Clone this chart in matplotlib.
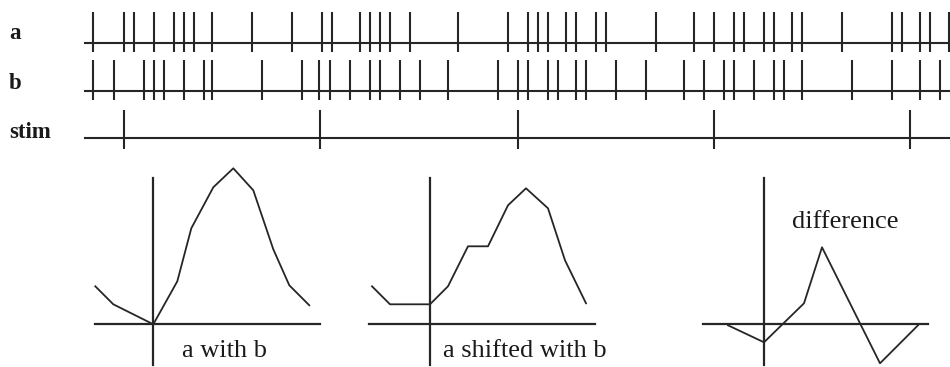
import matplotlib
matplotlib.use("Agg")
import matplotlib.pyplot as plt

# spike times (ms from the start of the trace)
spikes_a = [8, 39, 49, 69, 89, 99, 109, 127, 167, 207, 237, 247, 275, 285, 295, 305,
            325, 373, 423, 443, 453, 463, 481, 491, 511, 521, 571, 609, 629, 649, 659,
            679, 689, 707, 717, 757, 807, 817, 835, 845, 864]
spikes_b = [8, 29, 59, 69, 79, 99, 119, 127, 177, 217, 234, 245, 265, 285, 295, 315,
            335, 363, 413, 433, 443, 463, 473, 491, 501, 531, 561, 599, 619, 639, 649,
            669, 689, 699, 717, 767, 807, 835, 855]
stim_times = [39, 235, 433, 629, 825]
row_labels = ["a", "b", "stim"]
trace_end = 865

# cross-correlograms (lag in bins, count)
lag_ab = [-2.9, -2.0, 0.0, 1.2, 1.9, 3.0, 4.0, 5.0, 6.0, 6.8, 7.8]
cnt_ab = [3.8, 2.0, 0.0, 4.3, 9.6, 13.7, 15.6, 13.4, 7.5, 3.9, 1.9]
lag_shift = [-2.9, -2.0, 0.0, 0.9, 1.9, 2.9, 3.9, 4.8, 5.9, 6.75, 7.8]
cnt_shift = [3.8, 2.0, 2.0, 3.8, 7.8, 7.8, 11.9, 13.6, 11.6, 6.4, 2.1]
lag_diff = [-1.8, 0.0, 2.0, 2.9, 5.8, 7.7]
cnt_diff = [-0.1, -1.8, 2.1, 7.7, -3.9, -0.1]
panel_titles = ["a with b", "a shifted with b", "difference"]

W, H = 950, 367
INK = "#262626"
FONT = ["Liberation Serif", "DejaVu Serif"]

fig = plt.figure(figsize=(W / 100, H / 100), dpi=100)


def fx(x):
    return x / W


def fy(y):
    return 1 - y / H


# raster rows
x0 = 85
row_y0, row_step = 42.7, 47.8
top_h = 160
ax_top = fig.add_axes([fx(x0), fy(top_h), fx(W - x0), top_h / H])
ax_top.set_xlim(0, trace_end)
ax_top.set_ylim((top_h - row_y0) / row_step, -row_y0 / row_step)
ax_top.axis("off")

rows = [spikes_a, spikes_b, stim_times]
for k, times in enumerate(rows):
    ax_top.plot([0, trace_end], [k, k], color=INK, lw=1.5, clip_on=False)
    up, down = (0.64, 0.2) if k < 2 else (0.59, 0.23)
    ax_top.vlines(times, k - up, k + down, color=INK, lw=1.5, clip_on=False)

label_base = [39.3, 89.3, 138.3]
for lab, yb in zip(row_labels, label_base):
    fig.text(fx(9), fy(yb), lab, family=FONT, fontsize=16.5, fontweight="bold",
             color="#1a1a1a", va="baseline", ha="left")

# correlogram panels
origins = [153.3, 430.0, 764.0]
origin_y = 324.3
px_per_lag, px_per_cnt = 20, 10
axis_x = [(95, 320), (369.3, 595), (703.3, 928.3)]
axis_y = (178, 365)
series = [(lag_ab, cnt_ab), (lag_shift, cnt_shift), (lag_diff, cnt_diff)]
bot_top = 160
for ox, (xa, xb), (lags, cnts) in zip(origins, axis_x, series):
    left, width = ox - 80, 260
    ax = fig.add_axes([fx(left), fy(H), fx(width), (H - bot_top) / H])
    ax.set_xlim((left - ox) / px_per_lag, (left + width - ox) / px_per_lag)
    ax.set_ylim((origin_y - H) / px_per_cnt, (origin_y - bot_top) / px_per_cnt)
    ax.axis("off")
    ax.plot([(xa - ox) / px_per_lag, (xb - ox) / px_per_lag], [0, 0],
            color=INK, lw=1.6, clip_on=False)
    ax.plot([0, 0], [(origin_y - axis_y[1]) / px_per_cnt, (origin_y - axis_y[0]) / px_per_cnt],
            color=INK, lw=1.6, clip_on=False)
    ax.plot(lags, cnts, color=INK, lw=1.3, clip_on=False)

title_pos = [(181.7, 356.7), (443, 356.7), (791.7, 228.3)]
for t, (tx, ty) in zip(panel_titles, title_pos):
    fig.text(fx(tx), fy(ty), t, family=FONT, fontsize=19, color="#1a1a1a",
             va="baseline", ha="left")

fig.savefig("out.png", dpi=100)
